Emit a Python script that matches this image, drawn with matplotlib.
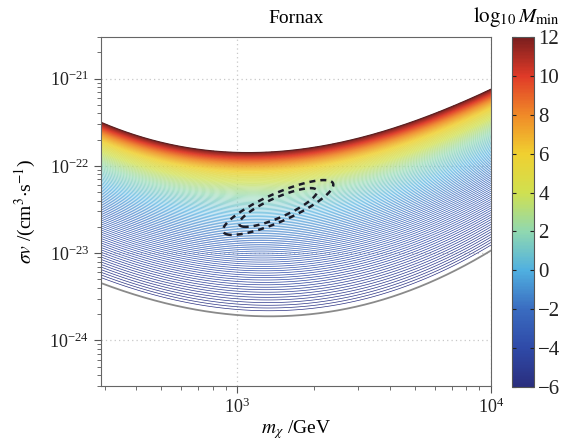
import numpy as np
import matplotlib
matplotlib.use("Agg")
import matplotlib.pyplot as plt
from matplotlib import cm, colors

plt.rcParams["font.family"] = "serif"
plt.rcParams["font.serif"] = ["Liberation Serif", "DejaVu Serif"]
plt.rcParams["mathtext.fontset"] = "stix"

# edges of the allowed region (log10 M_min = 12 on top, -6 at the bottom)
mass = [300, 450, 700, 1000, 1350, 1800, 2500, 3500, 4400, 5500, 7000, 10000]
sv_top = [3.1e-22, 1.9e-22, 1.62e-22, 1.46e-22, 1.46e-22, 1.5e-22,
          1.82e-22, 2.37e-22, 2.83e-22, 3.7e-22, 4.8e-22, 7.5e-22]
sv_bot = [4.4e-24, 2.95e-24, 2.2e-24, 2.04e-24, 1.86e-24, 1.93e-24,
          2.17e-24, 2.83e-24, 3.4e-24, 4.4e-24, 6.0e-24, 1.07e-23]

# where each log10 M_min value sits between the two edges (0 = top, 1 = bottom)
mmin_levels = [12, 10, 8, 6, 4, 2, 0, -2, -4, -6]
depth = [0.0, 0.035, 0.08, 0.125, 0.19, 0.27, 0.37, 0.58, 0.79, 1.0]

# best-fit region in (log10 m, log10 sigma v)
fit_center = (3.161, -22.477)
fit_sigma = (0.1013, 0.1463)
fit_rho = 0.83
fit_chi2 = [2.30, 4.61]

cbar_ticks = [12, 10, 8, 6, 4, 2, 0, -2, -4, -6]

# muted jet
cmap = colors.LinearSegmentedColormap.from_list("mjet", [
    "#2a2e7e", "#2f4aa8", "#3a6cc0", "#50b0e0", "#90d8b0",
    "#d0e050", "#f0d030", "#f08a28", "#e03a28", "#7a1e1e"])
norm = colors.Normalize(-6, 12)

# smooth edges through the read-off points
top_poly = np.polyfit(np.log10(mass), np.log10(sv_top), 4)
bot_poly = np.polyfit(np.log10(mass), np.log10(sv_bot), 4)
depth_poly = np.polyfit(mmin_levels, depth, 3)

lm = np.linspace(np.log10(290), 4, 600)
ls = np.linspace(-24.6, -20.4, 1200)
LM, LS = np.meshgrid(lm, ls)
top = np.polyval(top_poly, LM)
bot = np.polyval(bot_poly, LM)
frac = (top - LS) / (top - bot)

m_fine = np.linspace(12, -6, 600)
d_fine = np.polyval(depth_poly, m_fine)
d_fine = (d_fine - d_fine[0]) / (d_fine[-1] - d_fine[0])
field = np.interp(frac, d_fine, m_fine, left=np.nan, right=np.nan)

fig = plt.figure(figsize=(5.82, 4.42), dpi=100)
ax = fig.add_axes([0.1735, 0.1267, 0.670, 0.7896])
ax.set_xscale("log")
ax.set_yscale("log")
ax.set_xlim(290, 1e4)
ax.set_ylim(3e-25, 3e-21)
ax.set_xticks([1e3, 1e4])
ax.set_yticks([1e-24, 1e-23, 1e-22, 1e-21])
ax.set_axisbelow(True)
ax.grid(True, which="major", ls=(0, (1, 2.5)), color="#c8c8c8", lw=0.9)

levels = np.linspace(-6, 12, 145)
levels = levels[levels > -5.8]
levels[-1] -= 0.02
ax.contour(10 ** LM, 10 ** LS, field, levels=levels, cmap=cmap, norm=norm,
           linewidths=0.5)
ax.plot(10 ** lm, 10 ** np.polyval(bot_poly, lm), color="#8a8a8a", lw=1.3)
ax.plot(10 ** lm, 10 ** np.polyval(top_poly, lm), color="#5a2020", lw=0.8)

# confidence contours
dx = (LM - fit_center[0]) / fit_sigma[0]
dy = (LS - fit_center[1]) / fit_sigma[1]
chi2 = (dx ** 2 - 2 * fit_rho * dx * dy + dy ** 2) / (1 - fit_rho ** 2)
ax.contour(10 ** LM, 10 ** LS, chi2, levels=fit_chi2, colors="#1c1c28",
           linewidths=1.8, linestyles=[(0, (2.4, 2.0))])

for s in ax.spines.values():
    s.set_color("#666666")
ax.tick_params(which="both", direction="out", colors="#555555",
               labelcolor="#222222", labelsize=13, top=False, right=False)
ax.tick_params(which="major", length=5)
ax.tick_params(which="minor", length=3)
ax.set_title("Fornax", fontsize=14, pad=10)
ax.set_xlabel(r"$m_\chi$ /GeV", fontsize=14, labelpad=1)
ax.set_ylabel(r"$\sigma v$ /(cm$^3$$\cdot$s$^{-1}$)", fontsize=14, labelpad=8)

cax = fig.add_axes([0.8797, 0.1244, 0.0378, 0.7919])
cb = fig.colorbar(cm.ScalarMappable(norm=norm, cmap=cmap), cax=cax,
                  ticks=cbar_ticks)
cb.outline.set_edgecolor("#555555")
cax.tick_params(direction="in", length=3, left=True, right=True,
                colors="#222222", labelsize=15, pad=3)
fig.text(0.887, 0.962, r"$\log_{10}M_{\rm min}$", fontsize=15,
         ha="center", va="center")

fig.savefig("out.png", dpi=100)
